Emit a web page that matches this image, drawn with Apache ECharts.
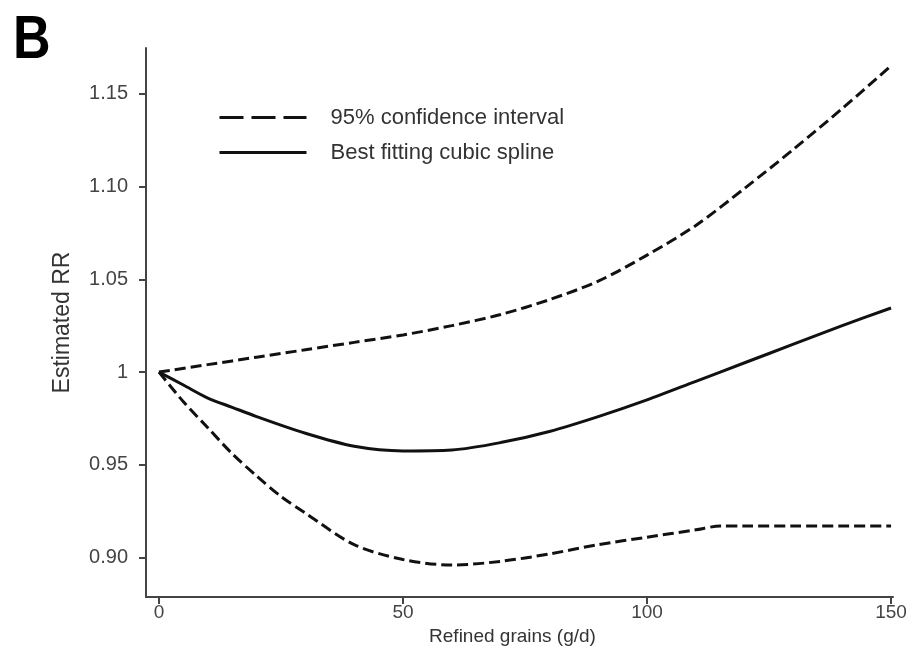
<!DOCTYPE html>
<html>
<head>
<meta charset="utf-8">
<script src="https://cdn.jsdelivr.net/npm/echarts@6/dist/echarts.min.js"></script>
<style>
html,body{margin:0;padding:0;background:#fff;}
#chart{width:912px;height:656px;}
</style>
</head>
<body>
<div id="chart"></div>
<script>
// Data
const panelLabel = "B";
const xName = "Refined grains (g/d)";
const yName = "Estimated RR";
const ciName = "95% confidence interval";
const splineName = "Best fitting cubic spline";

const xTickValues = [0, 50, 100, 150];
const xTickLabels = ["0", "50", "100", "150"];
const yTickValues = [0.90, 0.95, 1.00, 1.05, 1.10, 1.15];
const yTickLabels = ["0.90", "0.95", "1", "1.05", "1.10", "1.15"];

const upperX = [0, 10, 20, 30, 40, 50, 60, 70, 80, 90, 100, 110, 120, 130, 140, 150];
const upperY = [1.000, 1.004, 1.008, 1.012, 1.016, 1.020, 1.025, 1.031, 1.039, 1.049, 1.063, 1.079, 1.099, 1.120, 1.142, 1.165];

const splineX = [0, 5, 10, 15, 20, 30, 40, 50, 60, 70, 80, 90, 100, 110, 120, 130, 140, 150];
const splineY = [1.000, 0.993, 0.986, 0.981, 0.976, 0.967, 0.960, 0.9575, 0.958, 0.962, 0.968, 0.976, 0.985, 0.995, 1.005, 1.015, 1.025, 1.0345];

const lowerX = [0, 5, 10, 15, 20, 25, 30, 40, 50, 60, 70, 80, 90, 100, 110, 115, 120, 130, 140, 150];
const lowerY = [1.000, 0.984, 0.970, 0.956, 0.944, 0.933, 0.924, 0.907, 0.899, 0.896, 0.898, 0.902, 0.907, 0.911, 0.915, 0.917, 0.917, 0.917, 0.917, 0.917];

function pairs(xs, ys) { return xs.map((x, i) => [x, ys[i]]); }

const chart = echarts.init(document.getElementById('chart'), null, {renderer: 'canvas'});
const font = "Liberation Sans, Arial, sans-serif";
const dash = [11, 5];

chart.setOption({
  backgroundColor: '#fff',
  animation: false,
  graphic: [{
    type: 'text',
    left: 13,
    top: 10,
    scaleX: 0.84,
    style: {text: panelLabel, font: "bold 62px 'Liberation Sans', Arial, sans-serif", fill: '#000'}
  }],
  legend: {
    orient: 'vertical',
    left: 218,
    top: 106,
    padding: 0,
    itemWidth: 87,
    itemHeight: 14,
    itemGap: 12,
    textStyle: {fontFamily: font, fontSize: 22, color: '#333', padding: [0, 0, 0, 19], lineHeight: 23},
    data: [
      {name: ciName, lineStyle: {type: [24, 8], width: 3}, itemStyle: {opacity: 0}},
      {name: splineName, lineStyle: {width: 3}, itemStyle: {opacity: 0}}
    ]
  },
  grid: {left: 146, right: 19, top: 48, bottom: 59, containLabel: false},
  xAxis: {
    type: 'value',
    min: -2.66,
    max: 150.4,
    name: xName,
    nameLocation: 'middle',
    nameGap: 30,
    nameTextStyle: {fontFamily: font, fontSize: 19, color: '#333', padding: [0, 14, 0, 0]},
    axisLine: {show: true, onZero: false, lineStyle: {color: '#444', width: 2}},
    axisTick: {show: true, customValues: xTickValues, length: 7, lineStyle: {color: '#444', width: 2}},
    axisLabel: {
      customValues: xTickValues,
      fontFamily: font, fontSize: 19, color: '#444', margin: 6,
      formatter: v => { const i = xTickValues.indexOf(v); return i >= 0 ? xTickLabels[i] : ''; }
    },
    splitLine: {show: false}
  },
  yAxis: {
    type: 'value',
    min: 0.8788,
    max: 1.1746,
    name: yName,
    nameLocation: 'middle',
    nameGap: 72,
    nameRotate: 90,
    nameTextStyle: {fontFamily: font, fontSize: 23, color: '#333'},
    axisLine: {show: true, onZero: false, lineStyle: {color: '#444', width: 2}},
    axisTick: {show: true, customValues: yTickValues, length: 7, lineStyle: {color: '#444', width: 2}},
    axisLabel: {
      customValues: yTickValues,
      fontFamily: font, fontSize: 20, color: '#444', margin: 18,
      formatter: v => {
        let best = -1, bd = 1e9;
        yTickValues.forEach((t, i) => { const d = Math.abs(t - v); if (d < bd) { bd = d; best = i; } });
        return bd < 1e-6 ? yTickLabels[best] : '';
      }
    },
    splitLine: {show: false}
  },
  series: [
    {
      name: ciName, type: 'line', data: pairs(upperX, upperY), smooth: 0.3,
      symbol: 'none', lineStyle: {color: '#111', width: 3, type: dash}, itemStyle: {color: '#111'}
    },
    {
      name: ciName, type: 'line', data: pairs(lowerX, lowerY), smooth: 0.3,
      symbol: 'none', lineStyle: {color: '#111', width: 3, type: dash}, itemStyle: {color: '#111'}
    },
    {
      name: splineName, type: 'line', data: pairs(splineX, splineY), smooth: 0.3,
      symbol: 'none', lineStyle: {color: '#111', width: 3}, itemStyle: {color: '#111'}
    }
  ]
});
</script>
</body>
</html>
